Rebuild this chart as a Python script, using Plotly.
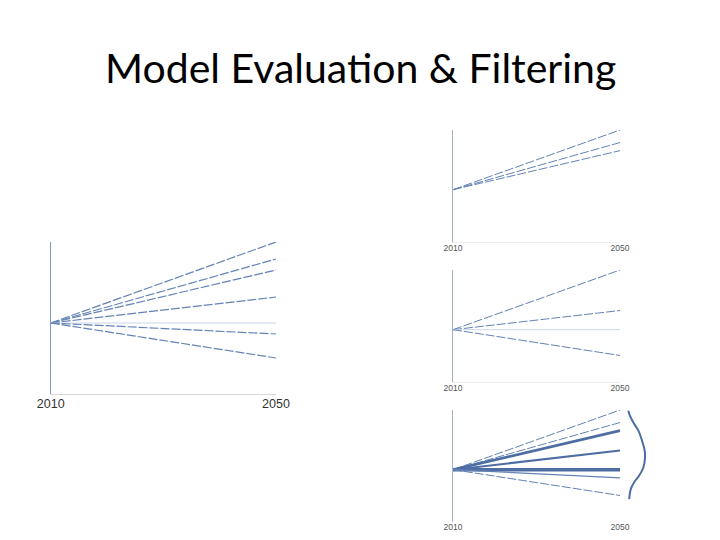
import plotly.graph_objects as go

W, H = 720, 540

title_text = "Model Evaluation & Filtering"
years = [2010, 2050]
tick_labels = ["2010", "2050"]

# scenario index values (2010 start -> 2050 end)
start_value = 100
end_values = [181, 164, 153, 126, 100, 89, 65]

# which scenarios appear in each filtered panel
panel2_idx = [0, 1, 2]
panel3_idx = [0, 3, 4, 6]

# weights (line widths) in the final panel
final_widths = [1, 1, 2.6, 2.0, 3.4, 1.3, 1]
final_dash = ["dash", "dash", "solid", "solid", "solid", "solid", "dash"]

# distribution curve next to the final panel (x in years, y in index units)
dist_x = [2052.0, 2052.4, 2053.2, 2054.4, 2055.3, 2055.9, 2056.0, 2055.6, 2054.6, 2053.4, 2052.6, 2052.2]
dist_y = [180, 173, 164, 153, 139, 126, 117, 103, 92, 83, 74, 60]

y_range = [29, 181]

BLUE = "#6382b5"
DARK = "#4d6da3"
LIGHT = "#c9d7eb"
AXIS_BLUE = "#7f9bc8"
DASH = "9px,2px"

def fx(px):
    return px / W

def fy(py):
    return 1 - py / H

fig = go.Figure()

def style_line(v):
    if v == start_value:
        return dict(color=LIGHT, width=1.2, dash="solid")
    return dict(color=BLUE, width=1.2, dash=DASH)

# Panel 1: all scenarios
for v in end_values:
    fig.add_trace(go.Scatter(x=years, y=[start_value, v], mode="lines",
                             line=style_line(v), xaxis="x", yaxis="y",
                             showlegend=False, hoverinfo="skip"))
# Panel 2
for i in panel2_idx:
    v = end_values[i]
    fig.add_trace(go.Scatter(x=years, y=[start_value, v], mode="lines",
                             line=dict(color=BLUE, width=1, dash=DASH),
                             xaxis="x2", yaxis="y2", showlegend=False, hoverinfo="skip"))
# Panel 3
for i in panel3_idx:
    v = end_values[i]
    fig.add_trace(go.Scatter(x=years, y=[start_value, v], mode="lines",
                             line=(dict(color=LIGHT, width=1) if v == start_value
                                   else dict(color=BLUE, width=1, dash=DASH)),
                             xaxis="x3", yaxis="y3", showlegend=False, hoverinfo="skip"))
# Panel 4: weighted
for v, w, d in zip(end_values, final_widths, final_dash):
    fig.add_trace(go.Scatter(x=years, y=[start_value, v], mode="lines",
                             line=dict(color=DARK if w > 1.5 else BLUE, width=w,
                                       dash=(DASH if d == "dash" else "solid")),
                             xaxis="x4", yaxis="y4", showlegend=False, hoverinfo="skip"))
fig.add_trace(go.Scatter(x=dist_x, y=dist_y, mode="lines",
                         line=dict(color=DARK, width=2, shape="spline"),
                         xaxis="x4", yaxis="y4", showlegend=False, hoverinfo="skip"))

def xaxis(dom_px, rng, size, color, showline=True):
    return dict(domain=[fx(dom_px[0]), fx(dom_px[1])], range=rng,
                showgrid=False, zeroline=False, showline=showline,
                linecolor="#d9d9d9", linewidth=1, automargin=False,
                tickmode="array", tickvals=years, ticktext=tick_labels,
                tickfont=dict(family="Liberation Sans", size=size, color=color),
                ticklabelstandoff=-2,
                ticks="", fixedrange=True)

def yaxis(top_py, bot_py, anchor, lw, col):
    return dict(domain=[fy(bot_py), fy(top_py)], range=y_range,
                showgrid=False, zeroline=False, showline=True, automargin=False,
                linecolor=col, linewidth=lw, showticklabels=False,
                ticks="", anchor=anchor, fixedrange=True)

# pixel mapping for small panels: 2010 at 453, 2050 at 620
small_x0, small_x1 = 453, 620
ext_px = 650
ext_year = 2010 + (ext_px - small_x0) / (small_x1 - small_x0) * 40

fig.update_layout(
    width=W, height=H, autosize=False,
    margin=dict(l=0, r=0, t=0, b=0, pad=0, autoexpand=False),
    paper_bgcolor="white", plot_bgcolor="rgba(0,0,0,0)",
    xaxis=xaxis((50.7, 276), [2010, 2050], 12.5, "#333333"),
    yaxis=yaxis(242, 394, "x", 1.4, AXIS_BLUE),
    xaxis2=dict(xaxis((small_x0, small_x1), [2010, 2050], 8.5, "#555555"), anchor="y2", linecolor="#eeeeee"),
    yaxis2=yaxis(130, 242, "x2", 1, "#9fb0c8"),
    xaxis3=dict(xaxis((small_x0, small_x1), [2010, 2050], 8.5, "#555555"), anchor="y3", linecolor="#eeeeee"),
    yaxis3=yaxis(270, 382, "x3", 1, "#9fb0c8"),
    xaxis4=dict(xaxis((small_x0, ext_px), [2010, ext_year], 8.5, "#555555", showline=False), anchor="y4"),
    yaxis4=yaxis(410, 522, "x4", 1, "#9fb0c8"),
    annotations=[dict(text=title_text, x=0.5, y=fy(68), xref="paper", yref="paper",
                      xanchor="center", yanchor="middle", showarrow=False,
                      font=dict(family="Lato", size=41, color="black"))],
)

fig.write_html("out.html")
